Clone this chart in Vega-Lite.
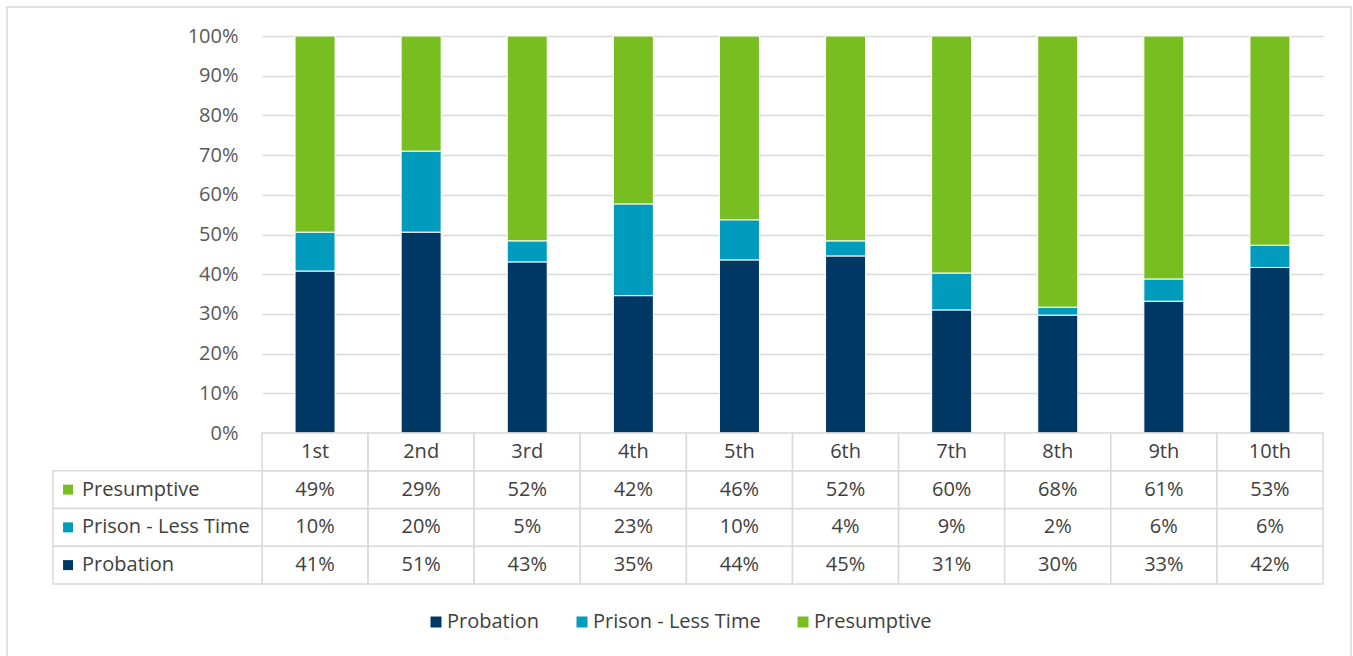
{
  "$schema": "https://vega.github.io/schema/vega-lite/v6.json",
  "width": 1344,
  "height": 652,
  "autosize": "none",
  "padding": {"left": 7, "top": 7, "right": 2, "bottom": 0},
  "background": "white",
  "config": {"font": "Open Sans", "view": {"stroke": "#d9d9d9", "strokeWidth": 1.5}},
  "datasets": {
    "bars": [
      {"cat": "1st", "series": "Probation", "value": 0.408},
      {"cat": "1st", "series": "Prison - Less Time", "value": 0.098},
      {"cat": "1st", "series": "Presumptive", "value": 0.494},
      {"cat": "2nd", "series": "Probation", "value": 0.506},
      {"cat": "2nd", "series": "Prison - Less Time", "value": 0.204},
      {"cat": "2nd", "series": "Presumptive", "value": 0.290},
      {"cat": "3rd", "series": "Probation", "value": 0.431},
      {"cat": "3rd", "series": "Prison - Less Time", "value": 0.053},
      {"cat": "3rd", "series": "Presumptive", "value": 0.516},
      {"cat": "4th", "series": "Probation", "value": 0.346},
      {"cat": "4th", "series": "Prison - Less Time", "value": 0.231},
      {"cat": "4th", "series": "Presumptive", "value": 0.423},
      {"cat": "5th", "series": "Probation", "value": 0.436},
      {"cat": "5th", "series": "Prison - Less Time", "value": 0.101},
      {"cat": "5th", "series": "Presumptive", "value": 0.463},
      {"cat": "6th", "series": "Probation", "value": 0.446},
      {"cat": "6th", "series": "Prison - Less Time", "value": 0.038},
      {"cat": "6th", "series": "Presumptive", "value": 0.516},
      {"cat": "7th", "series": "Probation", "value": 0.310},
      {"cat": "7th", "series": "Prison - Less Time", "value": 0.093},
      {"cat": "7th", "series": "Presumptive", "value": 0.597},
      {"cat": "8th", "series": "Probation", "value": 0.297},
      {"cat": "8th", "series": "Prison - Less Time", "value": 0.020},
      {"cat": "8th", "series": "Presumptive", "value": 0.683},
      {"cat": "9th", "series": "Probation", "value": 0.332},
      {"cat": "9th", "series": "Prison - Less Time", "value": 0.056},
      {"cat": "9th", "series": "Presumptive", "value": 0.612},
      {"cat": "10th", "series": "Probation", "value": 0.417},
      {"cat": "10th", "series": "Prison - Less Time", "value": 0.056},
      {"cat": "10th", "series": "Presumptive", "value": 0.527}
    ],
    "cats": [
      {"cat": "1st"}, {"cat": "2nd"}, {"cat": "3rd"}, {"cat": "4th"}, {"cat": "5th"},
      {"cat": "6th"}, {"cat": "7th"}, {"cat": "8th"}, {"cat": "9th"}, {"cat": "10th"}
    ],
    "rows": [
      {"series": "Presumptive"}, {"series": "Prison - Less Time"}, {"series": "Probation"}
    ]
  },
  "layer": [
    {
      "data": {"name": "bars"},
      "mark": {"type": "bar", "stroke": "white", "strokeWidth": 1},
      "encoding": {
        "x": {"field": "cat", "type": "nominal", "axis": null,
          "scale": {"domain": ["1st","2nd","3rd","4th","5th","6th","7th","8th","9th","10th"], "range": [255, 1316], "paddingInner": 0.623, "paddingOuter": 0.3115}},
        "y": {"field": "value", "type": "quantitative", "stack": "normalize",
          "scale": {"domain": [0, 1], "range": [426, 29]},
          "axis": {"title": null, "orient": "left", "offset": -255, "domain": false, "ticks": false, "labelPadding": 24,
            "format": ".0%", "values": [0, 0.1, 0.2, 0.3, 0.4, 0.5, 0.6, 0.7, 0.8, 0.9, 1],
            "grid": true, "gridColor": "#d9d9d9", "gridWidth": 1.5,
            "labelFontSize": 20, "labelColor": "#595959", "labelFont": "Open Sans"}},
        "color": {"field": "series", "type": "nominal",
          "scale": {"domain": ["Probation", "Prison - Less Time", "Presumptive"], "range": ["#003865", "#009bbd", "#78be21"]},
          "legend": {"title": null, "orient": "none", "direction": "horizontal", "legendX": 419, "legendY": 605,
            "symbolType": "square", "symbolSize": 121, "symbolStrokeWidth": 0, "labelLimit": 0,
            "labelFontSize": 20, "labelColor": "#404040", "labelFont": "Open Sans", "labelOffset": 1, "columnPadding": 32}},
        "order": {"field": "series", "sort": "descending"}
      }
    },
    {
      "layer": [
        {
          "data": {"name": "bars"},
          "mark": {"type": "rect", "fill": "white", "stroke": "#d9d9d9", "strokeWidth": 1.5},
          "encoding": {
            "x": {"field": "cat", "type": "nominal", "axis": null,
              "scale": {"type": "band", "domain": ["1st","2nd","3rd","4th","5th","6th","7th","8th","9th","10th"], "range": [255, 1316], "paddingInner": 0, "paddingOuter": 0}},
            "y": {"field": "series", "type": "nominal", "axis": null,
              "scale": {"type": "band", "domain": ["hdr", "Presumptive", "Prison - Less Time", "Probation"], "range": [426, 577], "paddingInner": 0, "paddingOuter": 0}}
          }
        },
        {
          "data": {"name": "cats"},
          "mark": {"type": "rect", "fill": "white", "stroke": "#d9d9d9", "strokeWidth": 1.5},
          "encoding": {
            "x": {"field": "cat", "type": "nominal"},
            "y": {"datum": "hdr", "type": "nominal"}
          }
        },
        {
          "data": {"name": "bars"},
          "mark": {"type": "text", "fontSize": 20, "color": "#404040", "font": "Open Sans"},
          "encoding": {
            "x": {"field": "cat", "type": "nominal"},
            "y": {"field": "series", "type": "nominal"},
            "text": {"field": "value", "type": "quantitative", "format": ".0%"}
          }
        },
        {
          "data": {"name": "cats"},
          "mark": {"type": "text", "fontSize": 20, "color": "#404040", "font": "Open Sans"},
          "encoding": {
            "x": {"field": "cat", "type": "nominal"},
            "y": {"datum": "hdr", "type": "nominal"},
            "text": {"field": "cat", "type": "nominal"}
          }
        }
      ]
    },
    {
      "data": {"name": "rows"},
      "layer": [
        {
          "mark": {"type": "rect", "fill": "white", "stroke": "#d9d9d9", "strokeWidth": 1.5},
          "encoding": {
            "x": {"datum": "lbl", "type": "nominal", "axis": null,
              "scale": {"type": "band", "range": [46, 255], "paddingInner": 0, "paddingOuter": 0}},
            "y": {"field": "series", "type": "nominal", "axis": null,
              "scale": {"type": "band", "domain": ["hdr", "Presumptive", "Prison - Less Time", "Probation"], "range": [426, 577], "paddingInner": 0, "paddingOuter": 0}}
          }
        },
        {
          "mark": {"type": "square", "size": 100, "opacity": 1, "filled": true},
          "encoding": {
            "x": {"datum": "lbl", "type": "nominal", "bandPosition": 0.072},
            "y": {"field": "series", "type": "nominal"},
            "color": {"field": "series", "type": "nominal"}
          }
        },
        {
          "mark": {"type": "text", "align": "left", "fontSize": 20, "color": "#404040", "font": "Open Sans"},
          "encoding": {
            "x": {"datum": "lbl", "type": "nominal", "bandPosition": 0.139},
            "y": {"field": "series", "type": "nominal"},
            "text": {"field": "series", "type": "nominal"}
          }
        }
      ]
    }
  ],
  "resolve": {"scale": {"x": "independent", "y": "independent"}, "axis": {"x": "independent", "y": "independent"}}
}
